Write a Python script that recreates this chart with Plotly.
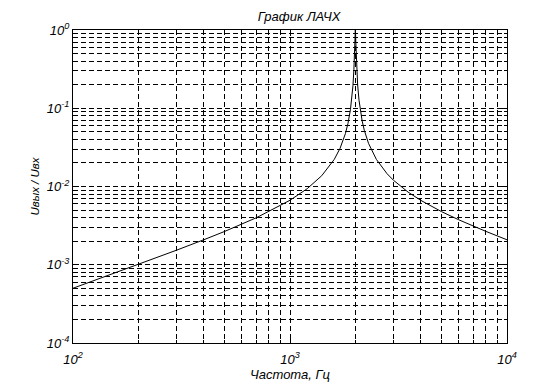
import plotly.graph_objects as go

# Frequency (Hz) and magnitude Uout/Uin
freq = [100, 150, 200, 300, 400, 500, 700, 1000, 1200, 1400, 1600, 1700, 1800,
        1850, 1900, 1930, 1950, 1970, 1980, 1985, 1990, 1995, 1998, 2000,
        2002, 2005, 2010, 2015, 2020, 2030, 2050, 2080, 2100, 2150, 2200,
        2300, 2500, 2800, 3000, 3500, 4000, 5000, 6000, 7000, 8000, 10000]
gain = [5.01e-4, 7.54e-4, 1.01e-3, 1.535e-3, 2.083e-3, 2.667e-3, 3.989e-3,
        6.667e-3, 9.375e-3, 0.01373, 0.02222, 0.03063, 0.04732,
        0.06394, 0.09698, 0.13895, 0.19372, 0.31407, 0.44541, 0.55326,
        0.7062, 0.8942, 0.9806, 1.0,
        0.9806, 0.8946, 0.7080, 0.55613, 0.4490, 0.31834, 0.19844, 0.12643,
        0.10190, 0.06891, 0.05231,
        0.03564, 0.02222, 0.01458, 0.012, 0.008485, 0.006667, 0.004762,
        0.00375, 0.003111, 0.002667, 0.002083]

x_tickvals = [100, 1000, 10000]
x_ticktext = ["10<sup>2</sup>", "10<sup>3</sup>", "10<sup>4</sup>"]
y_tickvals = [1e-4, 1e-3, 1e-2, 1e-1, 1]
y_ticktext = ["10<sup>-4</sup>", "10<sup>-3</sup>", "10<sup>-2</sup>",
              "10<sup>-1</sup>", "10<sup>0</sup>"]

title_text = "График ЛАЧХ"
x_label = "Частота, Гц"
y_label = "Uвых / Uвх"

x_minor = [m * 10 ** e for e in (2, 3) for m in range(2, 10)]
y_minor = [m * 10.0 ** e for e in (-4, -3, -2, -1) for m in range(2, 10)]

font_it = dict(family="Liberation Sans, Arial, sans-serif", size=13,
               color="black", style="italic")

fig = go.Figure()
fig.add_trace(go.Scatter(x=freq, y=gain, mode="lines",
                         line=dict(color="black", width=1), showlegend=False))

common = dict(
    showline=True, linecolor="black", linewidth=1, mirror="ticks",
    ticks="inside", ticklen=6, tickcolor="black",
    showgrid=True, gridcolor="black", gridwidth=1, griddash="5px,3px",
    zeroline=False, tickfont=dict(font_it, size=13), automargin=False,
)

fig.update_xaxes(type="log", range=[2, 4], tickmode="array",
                 tickvals=x_tickvals, ticktext=x_ticktext,
                 ticklabelstandoff=4,
                 minor=dict(tickmode="array", tickvals=x_minor, ticks="inside",
                            ticklen=3, tickcolor="black", showgrid=True,
                            gridcolor="black", gridwidth=1, griddash="5px,3px"),
                 title=dict(text=x_label, font=font_it, standoff=2),
                 **common)
fig.update_yaxes(type="log", range=[-4, 0], tickmode="array",
                 tickvals=y_tickvals, ticktext=y_ticktext,
                 minor=dict(tickmode="array", tickvals=y_minor, ticks="inside",
                            ticklen=3, tickcolor="black", showgrid=True,
                            gridcolor="black", gridwidth=1, griddash="5px,3px"),
                 title=dict(text=y_label, font=dict(font_it, size=11.5),
                            standoff=4),
                 **common)

fig.update_layout(
    width=560, height=385,
    margin=dict(l=65, r=61, t=22, b=50),
    paper_bgcolor="white", plot_bgcolor="white",
    title=dict(text=title_text, x=0.52, xanchor="center", y=0.978,
               yref="container", yanchor="middle", font=font_it),
)

fig.write_html("out.html")
